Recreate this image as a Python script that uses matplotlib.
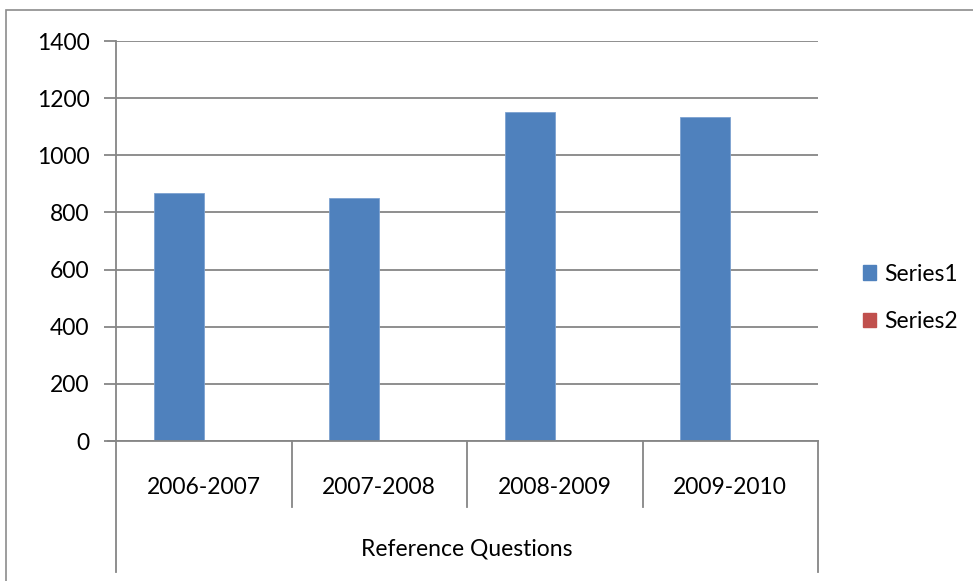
import matplotlib as mpl
mpl.use('Agg')
from matplotlib import pyplot as plt
from matplotlib.patches import Rectangle
import numpy as np

# data
categories = ['2006-2007', '2007-2008', '2008-2009', '2009-2010']
group_label = 'Reference Questions'
series1 = [868, 850, 1153, 1135]
series2 = [0, 0, 0, 0]
series_names = ['Series1', 'Series2']
yticks = [0, 200, 400, 600, 800, 1000, 1200, 1400]

plt.rcParams['font.family'] = ['Lato', 'DejaVu Sans']
W, H = 973, 581
fs = 16.5
fig = plt.figure(figsize=(W / 100, H / 100), dpi=100)

# chart area border (only top/left visible in the original)
fig.patches.append(Rectangle((6 / W, -0.1), 1.2, 1 - 10 / H + 0.1, transform=fig.transFigure,
                             fill=False, edgecolor='#8c8c8c', linewidth=1.2))

ax = fig.add_axes([116 / W, 1 - 441 / H, (818 - 116) / W, 400 / H])
grid_c = '#868686'

x = np.arange(len(categories))
width = 1 / 3.5  # gap width 150%
ax.bar(x - width / 2, series1, width, color='#4F81BD', edgecolor='#7da2d1', linewidth=0.6,
       label=series_names[0], zorder=3)
ax.bar(x + width / 2, series2, width, color='#C0504D', label=series_names[1], zorder=3)

ax.set_xlim(-0.5, len(categories) - 0.5)
ax.set_ylim(0, 1400)
ax.set_yticks(yticks)
ax.set_yticklabels([str(v) for v in yticks], fontsize=fs)
ax.yaxis.grid(True, color=grid_c, linewidth=1.3, zorder=0)
ax.tick_params(axis='y', length=9, width=1.3, color=grid_c, pad=10)
ax.set_xticks([])
for s in ['top', 'right', 'bottom']:
    ax.spines[s].set_visible(False)
ax.spines['left'].set_color(grid_c)
ax.spines['left'].set_linewidth(1.3)

# category axis drawn by hand below the plot (multi-level labels)
tr = ax.get_xaxis_transform()
ax.plot([-0.5 - 0.012 * 4, len(categories) - 0.5], [0, 0], color=grid_c, lw=1.3,
        transform=tr, clip_on=False, zorder=4)
inner = -66 / 400
outer = -131 / 400
for b in np.arange(len(categories) + 1) - 0.5:
    lo = outer if b in (-0.5, len(categories) - 0.5) else inner
    ax.plot([b, b], [0, lo], color=grid_c, lw=1.3, transform=tr, clip_on=False)
for xi, lab in zip(x, categories):
    ax.text(xi, -46 / 400, lab, transform=tr, ha='center', va='center', fontsize=fs)
ax.text((len(categories) - 1) / 2, -108 / 400, group_label, transform=tr,
        ha='center', va='center', fontsize=fs)

handles = [Rectangle((0, 0), 1, 1, color='#4F81BD'), Rectangle((0, 0), 1, 1, color='#C0504D')]
fig.legend(handles, series_names, loc='center left', bbox_to_anchor=(842 / W, 1 - 298 / H),
           frameon=False, fontsize=fs, handlelength=0.6, handleheight=0.6,
           handletextpad=0.35, labelspacing=1.15)

fig.savefig('out.png', dpi=100)
